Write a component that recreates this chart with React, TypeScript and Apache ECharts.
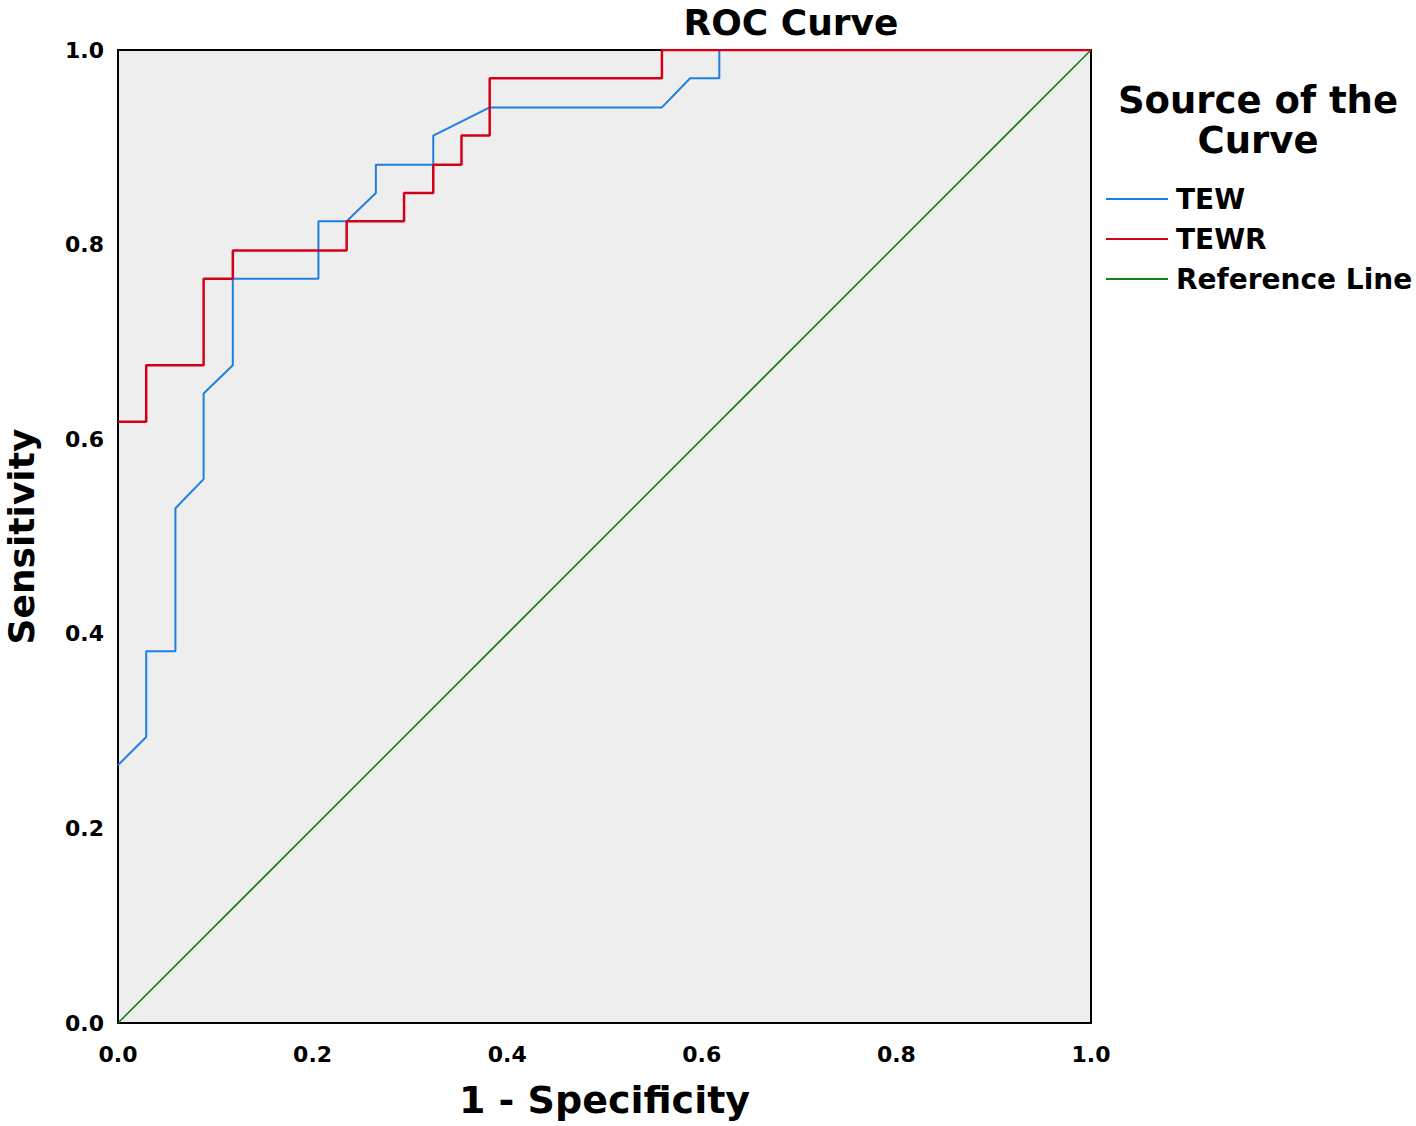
import React, { useEffect, useRef } from "react";
import * as echarts from "echarts";

const tewFpr = [0, 0.029, 0.029, 0.059, 0.059, 0.088, 0.088, 0.118, 0.118, 0.206, 0.206, 0.235, 0.265, 0.265, 0.324, 0.324, 0.382, 0.559, 0.588, 0.618, 0.618, 1.0];
const tewTpr = [0.265, 0.294, 0.382, 0.382, 0.529, 0.559, 0.647, 0.676, 0.765, 0.765, 0.824, 0.824, 0.853, 0.882, 0.882, 0.912, 0.941, 0.941, 0.971, 0.971, 1.0, 1.0];

const tewrFpr = [0, 0.029, 0.029, 0.088, 0.088, 0.118, 0.118, 0.235, 0.235, 0.294, 0.294, 0.324, 0.324, 0.353, 0.353, 0.382, 0.382, 0.559, 0.559, 1.0];
const tewrTpr = [0.618, 0.618, 0.676, 0.676, 0.765, 0.765, 0.794, 0.794, 0.824, 0.824, 0.853, 0.853, 0.882, 0.882, 0.912, 0.912, 0.971, 0.971, 1.0, 1.0];

const refFpr = [0, 1];
const refTpr = [0, 1];

const seriesNames = ["TEW", "TEWR", "Reference Line"];
const seriesColors = ["#1f7fe0", "#d4001a", "#16801a"];

const FONT = "DejaVu Sans";

export default function App() {
  const ref = useRef<HTMLDivElement>(null);
  useEffect(() => {
    if (!ref.current) return;
    const chart = echarts.init(ref.current, null, { renderer: "svg" });
    const zip = (xs: number[], ys: number[]) => xs.map((x, i) => [x, ys[i]]);
    const data = [zip(tewFpr, tewTpr), zip(tewrFpr, tewrTpr), zip(refFpr, refTpr)];
    const widths = [2, 2.5, 1.6];
    chart.setOption({
      animation: false,
      backgroundColor: "#ffffff",
      title: {
        text: "ROC Curve",
        left: 791,
        top: 4,
        padding: 0,
        textAlign: "center",
        textStyle: { fontFamily: FONT, fontWeight: "bold", fontSize: 36, lineHeight: 36, color: "#000" },
      },
      grid: {
        show: true,
        left: 118,
        top: 50,
        width: 973,
        height: 973,
        containLabel: false,
        outerBoundsMode: "none",
        backgroundColor: "#eeeeee",
        borderColor: "#000",
        borderWidth: 2,
      },
      legend: {
        orient: "vertical",
        left: 1106,
        top: 179,
        padding: 0,
        icon: "rect",
        itemWidth: 62,
        itemHeight: 2,
        itemGap: 0,
        data: seriesNames,
        textStyle: { fontFamily: FONT, fontWeight: "bold", fontSize: 28, color: "#000", lineHeight: 40, padding: [0, 0, 0, 3] },
      },
      graphic: [
        {
          type: "text",
          x: 1258,
          y: 82,
          style: {
            text: "Source of the",
            textAlign: "center",
            align: "center",
            fontFamily: FONT,
            fontWeight: "bold",
            fontSize: 37,
            fill: "#000",
          },
        },
        {
          type: "text",
          x: 1258,
          y: 122,
          style: {
            text: "Curve",
            textAlign: "center",
            align: "center",
            fontFamily: FONT,
            fontWeight: "bold",
            fontSize: 37,
            fill: "#000",
          },
        },
      ],
      xAxis: {
        type: "value",
        min: 0,
        max: 1,
        interval: 0.2,
        name: "1 - Specificity",
        nameLocation: "middle",
        nameGap: 58,
        nameTextStyle: { fontFamily: FONT, fontWeight: "bold", fontSize: 38, color: "#000" },
        axisLine: { show: false },
        axisTick: { show: false },
        splitLine: { show: false },
        axisLabel: {
          fontFamily: FONT,
          fontWeight: "bold",
          fontSize: 22,
          color: "#000",
          margin: 20,
          formatter: (v: number) => v.toFixed(1),
        },
      },
      yAxis: {
        type: "value",
        min: 0,
        max: 1,
        interval: 0.2,
        name: "Sensitivity",
        nameLocation: "middle",
        nameGap: 79,
        nameTextStyle: { fontFamily: FONT, fontWeight: "bold", fontSize: 36, color: "#000" },
        axisLine: { show: false },
        axisTick: { show: false },
        splitLine: { show: false },
        axisLabel: {
          fontFamily: FONT,
          fontWeight: "bold",
          fontSize: 22,
          color: "#000",
          margin: 14,
          padding: [8, 0, 0, 0],
          formatter: (v: number) => v.toFixed(1),
        },
      },
      series: seriesNames.map((name, i) => ({
        name,
        type: "line",
        data: data[i],
        showSymbol: false,
        symbol: "none",
        color: seriesColors[i],
        lineStyle: { color: seriesColors[i], width: widths[i] },
        z: i === 2 ? 1 : 2 + i,
      })),
    });
    return () => chart.dispose();
  }, []);
  return <div ref={ref} style={{ position: "fixed", left: 0, top: 0, width: 1416, height: 1126 }} />;
}
